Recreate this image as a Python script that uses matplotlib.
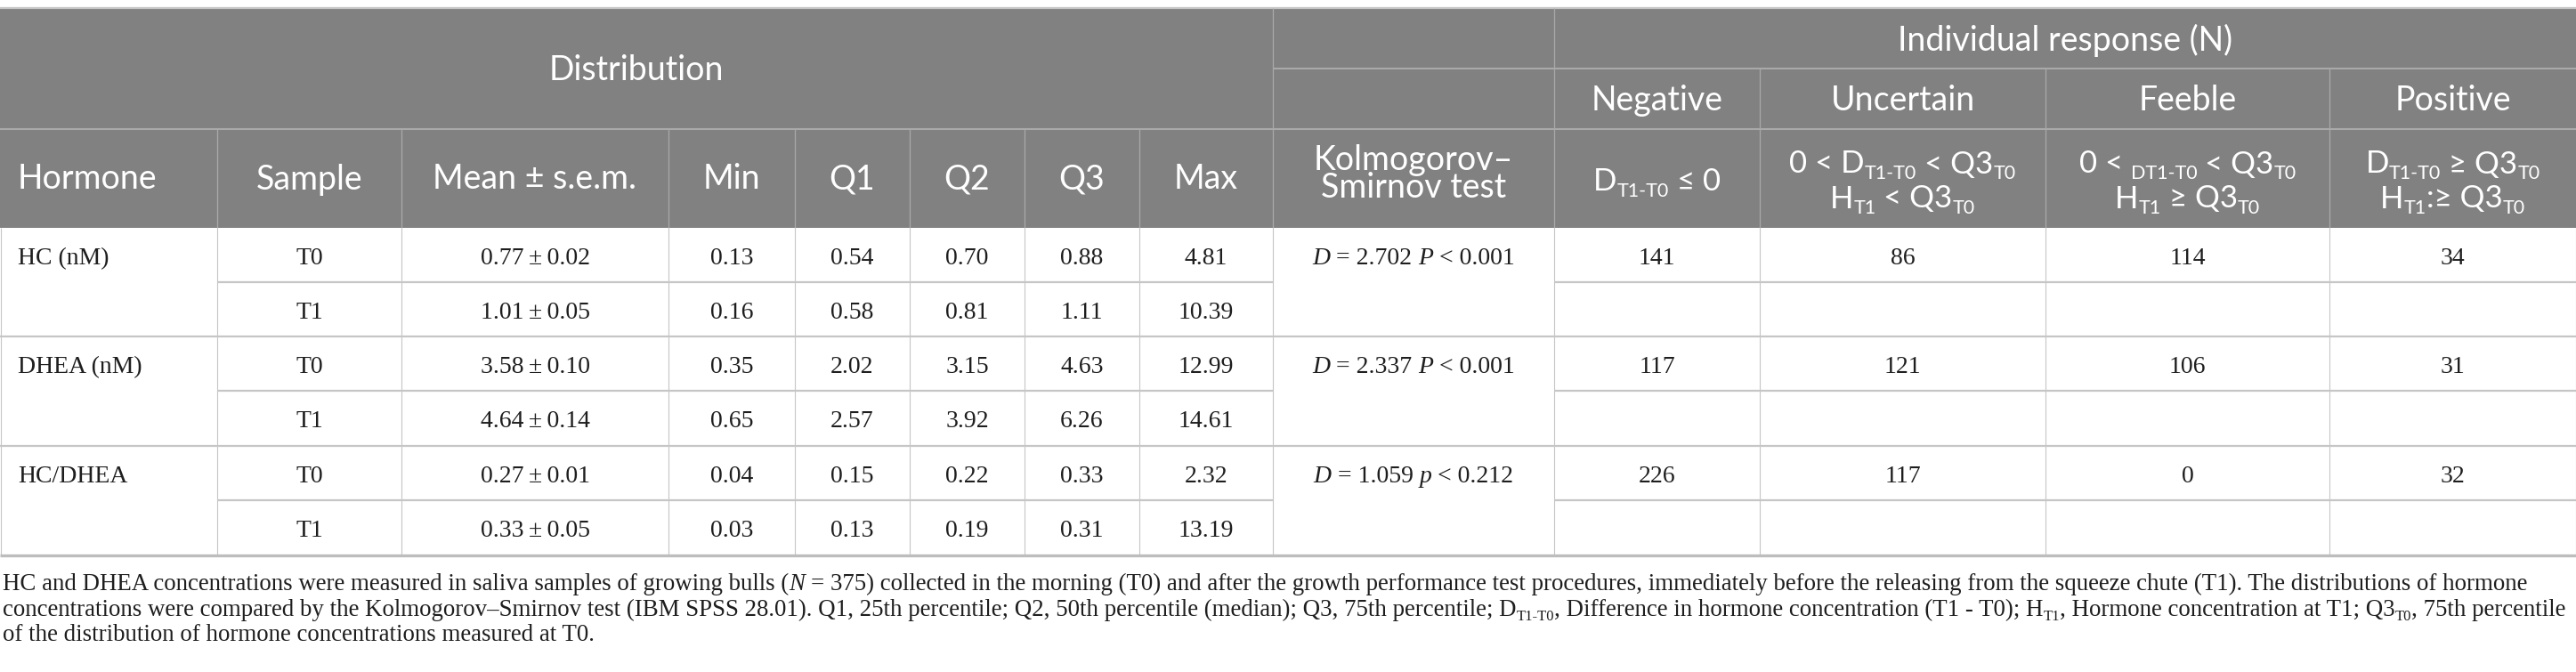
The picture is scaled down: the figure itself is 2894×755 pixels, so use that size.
import matplotlib
matplotlib.use('Agg')
import matplotlib.pyplot as plt
from matplotlib.patches import Rectangle

W, H = 2894, 755
DPI = 100

# ---------------- data ----------------
hormones = ['HC (nM)', 'DHEA (nM)', 'HC/DHEA']
samples = ['T0', 'T1']
means = [[0.77, 1.01], [3.58, 4.64], [0.27, 0.33]]
sems = [[0.02, 0.05], [0.10, 0.14], [0.01, 0.05]]
mins = [[0.13, 0.16], [0.35, 0.65], [0.04, 0.03]]
q1s = [[0.54, 0.58], [2.02, 2.57], [0.15, 0.13]]
q2s = [[0.70, 0.81], [3.15, 3.92], [0.22, 0.19]]
q3s = [[0.88, 1.11], [4.63, 6.26], [0.33, 0.31]]
maxs = [[4.81, 10.39], [12.99, 14.61], [2.32, 13.19]]
ks_d = ['2.702', '2.337', '1.059']
ks_psym = ['P', 'P', 'p']
ks_pval = ['0.001', '0.001', '0.212']
n_negative = [141, 117, 226]
n_uncertain = [86, 121, 117]
n_feeble = [114, 106, 0]
n_positive = [34, 31, 32]

dist_header = ['Hormone', 'Sample', 'Mean \u00b1 s.e.m.', 'Min', 'Q1', 'Q2', 'Q3', 'Max']
ks_header = ['Kolmogorov\u2013', 'Smirnov test']
resp_header = ['Negative', 'Uncertain', 'Feeble', 'Positive']
resp_rules = [
    [[('D', 'n'), ('T1-T0', 's'), (' \u2264 0', 'n')]],
    [[('0 < D', 'n'), ('T1-T0', 's'), (' < Q3', 'n'), ('T0', 's')],
     [('H', 'n'), ('T1', 's'), (' < Q3', 'n'), ('T0', 's')]],
    [[('0 < ', 'n'), ('DT1-T0', 's'), (' < Q3', 'n'), ('T0', 's')],
     [('H', 'n'), ('T1', 's'), (' \u2265 Q3', 'n'), ('T0', 's')]],
    [[('D', 'n'), ('T1-T0', 's'), (' \u2265 Q3', 'n'), ('T0', 's')],
     [('H', 'n'), ('T1', 's'), (':\u2265 Q3', 'n'), ('T0', 's')]],
]
footnote = [
    [('HC and DHEA concentrations were measured in saliva samples of growing bulls (', 'n'), ('N', 'i'),
     (' = 375) collected in the morning (T0) and after the growth performance test procedures, immediately '
      'before the releasing from the squeeze chute (T1). The distributions of hormone', 'n')],
    [('concentrations were compared by the Kolmogorov\u2013Smirnov test (IBM SPSS 28.01). Q1, 25th percentile; '
      'Q2, 50th percentile (median); Q3, 75th percentile; D', 'n'), ('T1-T0', 's'),
     (', Difference in hormone concentration (T1 - T0); H', 'n'), ('T1', 's'),
     (', Hormone concentration at T1; Q3', 'n'), ('T0', 's'), (', 75th percentile', 'n')],
    [('of the distribution of hormone concentrations measured at T0.', 'n')],
]

# ---------------- layout ----------------
cols = [0, 244, 451, 751, 893, 1022, 1151, 1280, 1430, 1746, 1977, 2298, 2617, 2894]
y_top, y_r1, y_r2, y_hb = 9, 77, 145, 256
rows = [256, 317, 378, 439, 501, 562, 624]

HDR_BG = '#808180'
HDR_LINE = '#a8a9a8'
GRID = '#c6c6c6'
SANS = ['Lato', 'DejaVu Sans']
SERIF = ['Liberation Serif', 'DejaVu Serif']
TXT = '#1e1e1e'

fig = plt.figure(figsize=(W / DPI, H / DPI), dpi=DPI)
ax = fig.add_axes([0, 0, 1, 1])
ax.set_xlim(0, W)
ax.set_ylim(H, 0)
ax.axis('off')
renderer = fig.canvas.get_renderer()

SUB = 0.62


def twidth(s, family, size, style='normal'):
    if s == '':
        return 0.0
    t = ax.text(0, 0, '|' + s + '|', family=family, size=size, style=style)
    w1 = t.get_window_extent(renderer).width
    t.set_text('||')
    w2 = t.get_window_extent(renderer).width
    t.remove()
    return w1 - w2


def rich(x, y, segs, family, size, color, ha='center', cap=0.70, measure_only=False):
    px = size * DPI / 72.0
    items = []
    for s, k in segs:
        sz = size * SUB if k == 's' else size
        st = 'italic' if k == 'i' else 'normal'
        w = twidth(s, family, sz, st)
        lead = len(s) - len(s.lstrip(' '))
        lw = twidth(' ' * lead, family, sz, st) if lead else 0.0
        items.append((s.strip(' '), k, sz, st, w, lw))
    total = sum(it[4] for it in items)
    if measure_only:
        return total
    x0 = x - total / 2.0 if ha == 'center' else x
    base = y + cap * px / 2.0
    for s, k, sz, st, w, lw in items:
        yy = base + (0.20 * px if k == 's' else 0.0)
        if s:
            ax.text(x0 + lw, yy, s, ha='left', va='baseline', family=family, size=sz,
                    style=st, color=color)
        x0 += w
    return total


def hline(y, x0, x1, color, lw):
    ax.plot([x0, x1], [y, y], color=color, lw=lw, solid_capstyle='butt', zorder=3)


def vline(x, y0, y1, color, lw):
    ax.plot([x, x], [y0, y1], color=color, lw=lw, solid_capstyle='butt', zorder=3)


# ---------------- header ----------------
ax.add_patch(Rectangle((0, y_top), W, y_hb - y_top, facecolor=HDR_BG, edgecolor='none', zorder=1))
hline(y_top - 0.5, 0, W, '#c8c8c8', 1.6)
hline(y_r2, 0, W, HDR_LINE, 1.5)
hline(y_r1, cols[8], W, HDR_LINE, 1.5)
vline(cols[8], y_top, y_hb, HDR_LINE, 0.9)
vline(cols[9], y_top, y_hb, HDR_LINE, 0.9)
for c in cols[10:13]:
    vline(c, y_r1, y_hb, HDR_LINE, 0.9)
for c in cols[1:8]:
    vline(c, y_r2, y_hb, HDR_LINE, 0.9)

HS = 27
ax.text((cols[0] + cols[8]) / 2, (y_top + y_r2) / 2 + 2, 'Distribution', ha='center', va='center',
        family=SANS, size=HS, color='white')
ax.text((cols[9] + cols[13]) / 2, (y_top + y_r1) / 2 + 2, 'Individual response (N)', ha='center',
        va='center', family=SANS, size=HS, color='white')
for i, lab in enumerate(resp_header):
    cx = (cols[9 + i] + cols[10 + i]) / 2
    ax.text(cx, (y_r1 + y_r2) / 2 + 2, lab, ha='center', va='center', family=SANS, size=HS, color='white')

hy = (y_r2 + y_hb) / 2 + 1
for i, lab in enumerate(dist_header):
    if i == 0:
        ax.text(20, hy, lab, ha='left', va='center', family=SANS, size=HS, color='white')
    else:
        ax.text((cols[i] + cols[i + 1]) / 2, hy, lab, ha='center', va='center', family=SANS, size=HS,
                color='white')

KS_S = 27
for lab, yy in zip(ks_header, [177, 209]):
    rich((cols[8] + cols[9]) / 2, yy, [(lab, 'n')], SANS, KS_S, 'white', cap=0.72)

FS = 25
for i, lines in enumerate(resp_rules):
    cx = (cols[9 + i] + cols[10 + i]) / 2
    if len(lines) == 1:
        rich(cx, hy, lines[0], SANS, FS, 'white', cap=0.72)
    else:
        rich(cx, 182, lines[0], SANS, FS, 'white', cap=0.72)
        rich(cx, 221, lines[1], SANS, FS, 'white', cap=0.72)

# ---------------- body ----------------
for c in cols[1:13]:
    vline(c, y_hb, rows[-1], GRID, 0.8)
vline(0.5, y_hb, rows[-1], GRID, 0.8)
vline(W - 0.5, y_hb, rows[-1], GRID, 0.8)
for g in range(3):
    ymid = rows[2 * g + 1]
    hline(ymid, cols[1], cols[8], GRID, 1.6)
    hline(ymid, cols[9], W, GRID, 1.6)
for g in (1, 2):
    hline(rows[2 * g], 0, W, GRID, 1.6)
hline(rows[-1], 0, W, '#bdbdbd', 2.4)

DS = 20
for g in range(3):
    for s in range(2):
        r = 2 * g + s
        cy = (rows[r] + rows[r + 1]) / 2 + 1
        base = cy + 0.66 * DS * DPI / 72 / 2
        if s == 0:
            ax.text(20, base, hormones[g], ha='left', va='baseline', family=SERIF, size=DS, color=TXT)
        vals = [samples[s], f'{means[g][s]:.2f}\u2009\u00b1\u2009{sems[g][s]:.2f}', f'{mins[g][s]:.2f}',
                f'{q1s[g][s]:.2f}', f'{q2s[g][s]:.2f}', f'{q3s[g][s]:.2f}', f'{maxs[g][s]:.2f}']
        for j, v in enumerate(vals):
            ax.text((cols[j + 1] + cols[j + 2]) / 2, base, v, ha='center', va='baseline', family=SERIF,
                    size=DS, color=TXT)
        if s == 0:
            rich((cols[8] + cols[9]) / 2, cy,
                 [('D', 'i'), (f' = {ks_d[g]} ', 'n'), (ks_psym[g], 'i'), (f' < {ks_pval[g]}', 'n')],
                 SERIF, DS, TXT, cap=0.66)
            for j, arr in enumerate([n_negative, n_uncertain, n_feeble, n_positive]):
                ax.text((cols[9 + j] + cols[10 + j]) / 2, base, str(arr[g]), ha='center', va='baseline',
                        family=SERIF, size=DS, color=TXT)

# ---------------- footnote ----------------
NS0 = 19
w_line1 = rich(0, 0, footnote[0], SERIF, NS0, TXT, measure_only=True)
NS = NS0 * (2845 - 3) / w_line1
for k, yb in enumerate([663, 692, 720]):
    rich(3, yb - 0.66 * NS * DPI / 72 / 2, footnote[k], SERIF, NS, TXT, ha='left', cap=0.66)

fig.savefig('out.png', dpi=DPI)
